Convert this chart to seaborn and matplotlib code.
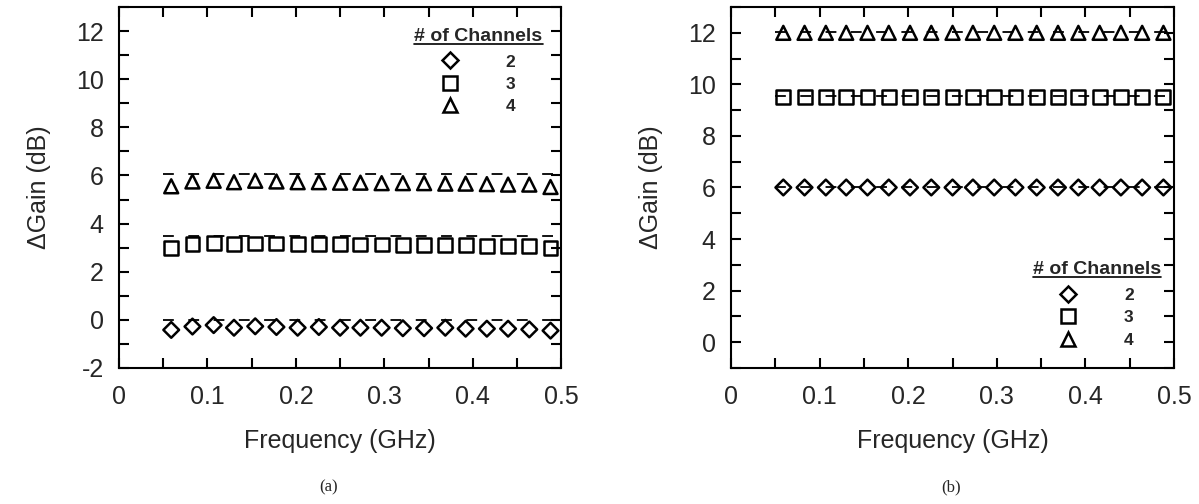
import numpy as np
import pandas as pd
import matplotlib
matplotlib.use("Agg")
import matplotlib.pyplot as plt
import seaborn as sns
from matplotlib.lines import Line2D
from matplotlib.ticker import MultipleLocator

# measured sweep frequencies (GHz)
freq = [0.059, 0.083, 0.107, 0.130, 0.154, 0.178, 0.202, 0.226, 0.250, 0.273,
        0.297, 0.321, 0.345, 0.369, 0.392, 0.416, 0.440, 0.464, 0.488]
channels = [2, 3, 4]

# panel (a) measured delta gain (dB)
gain_a_2 = [-0.42, -0.28, -0.22, -0.33, -0.27, -0.30, -0.33, -0.30, -0.33, -0.33,
            -0.33, -0.35, -0.35, -0.33, -0.37, -0.37, -0.37, -0.40, -0.45]
gain_a_3 = [2.98, 3.15, 3.20, 3.15, 3.17, 3.17, 3.15, 3.15, 3.15, 3.13,
            3.13, 3.12, 3.12, 3.10, 3.10, 3.08, 3.07, 3.05, 3.00]
gain_a_4 = [5.55, 5.75, 5.78, 5.72, 5.78, 5.75, 5.72, 5.72, 5.70, 5.70,
            5.68, 5.68, 5.68, 5.66, 5.66, 5.64, 5.62, 5.62, 5.52]
ref_a = [0.0, 3.5, 6.05]

# panel (b) measured delta gain (dB)
gain_b_2 = [6.0, 6.0, 6.0, 6.0, 6.0, 6.0, 6.0, 6.0, 6.0, 6.0,
            6.0, 6.0, 6.0, 6.0, 6.0, 6.0, 6.0, 6.0, 6.0]
gain_b_3 = [9.52, 9.52, 9.52, 9.52, 9.52, 9.52, 9.52, 9.52, 9.52, 9.52,
            9.52, 9.52, 9.52, 9.52, 9.52, 9.52, 9.52, 9.52, 9.52]
gain_b_4 = [12.0, 12.0, 12.0, 12.0, 12.0, 12.0, 12.0, 12.0, 12.0, 12.0,
            12.0, 12.0, 12.0, 12.0, 12.0, 12.0, 12.0, 12.0, 12.0]
ref_b = [6.02, 9.54, 12.04]

ref_span = [0.05, 0.5]

markers = {2: "D", 3: "s", 4: "^"}
marker_sizes = {2: 8, 3: 10, 4: 10}

sns.set_theme(style="ticks")
plt.rcParams["font.family"] = ["Liberation Sans", "DejaVu Sans"]


def long_frame(series):
    rows = []
    for ch, vals in zip(channels, series):
        for f, g in zip(freq, vals):
            rows.append({"freq": f, "gain": g, "channels": ch})
    return pd.DataFrame(rows)


def draw_panel(ax, series, refs, ylim, ylabels):
    df = long_frame(series)
    for ch, ref in zip(channels, refs):
        sns.lineplot(x=ref_span, y=[ref, ref], ax=ax, color="black",
                     linewidth=1.3, linestyle=(0, (6, 8)))
    for ch in channels:
        sub = df[df["channels"] == ch]
        sns.scatterplot(data=sub, x="freq", y="gain", ax=ax, marker=markers[ch],
                        s=marker_sizes[ch] ** 2, linewidth=1.8, zorder=3)
    for coll in ax.collections:
        coll.set_facecolor("none")
        coll.set_edgecolor("black")

    ax.set_xlim(0, 0.5)
    ax.set_ylim(*ylim)
    ax.set_xticks([0, 0.1, 0.2, 0.3, 0.4, 0.5])
    ax.set_xticklabels(["0", "0.1", "0.2", "0.3", "0.4", "0.5"])
    ax.xaxis.set_minor_locator(MultipleLocator(0.05))
    ax.set_yticks(ylabels)
    ax.set_yticklabels([str(v) for v in ylabels])
    ax.yaxis.set_minor_locator(MultipleLocator(1))
    ax.tick_params(which="both", direction="in", length=7, width=1.5,
                   top=True, right=True, labelsize=18, color="black")
    ax.tick_params(axis="x", which="major", pad=12)
    ax.tick_params(axis="y", which="major", pad=11)
    for sp in ax.spines.values():
        sp.set_linewidth(1.5)
        sp.set_color("black")
    ax.set_xlabel("Frequency (GHz)", fontsize=18, labelpad=15)
    ax.set_ylabel("\u0394Gain (dB)", fontsize=18, labelpad=18)


fig = plt.figure(figsize=(11.99, 5.04), dpi=100)
ax_a = fig.add_axes([0.0993, 0.270, 0.3687, 0.716])
ax_b = fig.add_axes([0.6097, 0.270, 0.3695, 0.716])

draw_panel(ax_a, [gain_a_2, gain_a_3, gain_a_4], ref_a, (-2, 13),
           [-2, 0, 2, 4, 6, 8, 10, 12])
draw_panel(ax_b, [gain_b_2, gain_b_3, gain_b_4], ref_b, (-1, 13),
           [0, 2, 4, 6, 8, 10, 12])

handles = [Line2D([], [], linestyle="none", marker=markers[ch], markersize=marker_sizes[ch],
                  markerfacecolor="none", markeredgecolor="black", markeredgewidth=1.8)
           for ch in channels]
labels = [str(ch) for ch in channels]

legends = []
for ax, anchor in [(ax_a, (0.958, 0.943)), (ax_b, (0.97, 0.296))]:
    leg = ax.legend(handles, labels, title="# of Channels", loc="upper right",
                    bbox_to_anchor=anchor, frameon=False, handlelength=1.0,
                    handletextpad=2.7, labelspacing=0.42, borderpad=0,
                    borderaxespad=0, prop={"size": 12.5, "weight": "bold"},
                    title_fontproperties={"size": 14, "weight": "bold"})
    leg._legend_box.sep = 7
    legends.append(leg)

fig.text(329 / 1199, 1 - 487 / 504, "(a)", family=["Liberation Serif", "DejaVu Serif"],
         fontsize=12, ha="center", va="center")
fig.text(951 / 1199, 1 - 487 / 504, "(b)", family=["Liberation Serif", "DejaVu Serif"],
         fontsize=12, ha="center", va="center")

# underline the legend titles
fig.canvas.draw()
renderer = fig.canvas.get_renderer()
inv = fig.transFigure.inverted()
for leg in legends:
    bb = leg.get_title().get_window_extent(renderer)
    (x0, y0), (x1, _) = inv.transform([[bb.x0, bb.y0 + 1], [bb.x1, bb.y0 + 1]])
    fig.add_artist(Line2D([x0, x1], [y0, y0], transform=fig.transFigure,
                          color="black", linewidth=1.2))

fig.savefig("out.png", dpi=100)
